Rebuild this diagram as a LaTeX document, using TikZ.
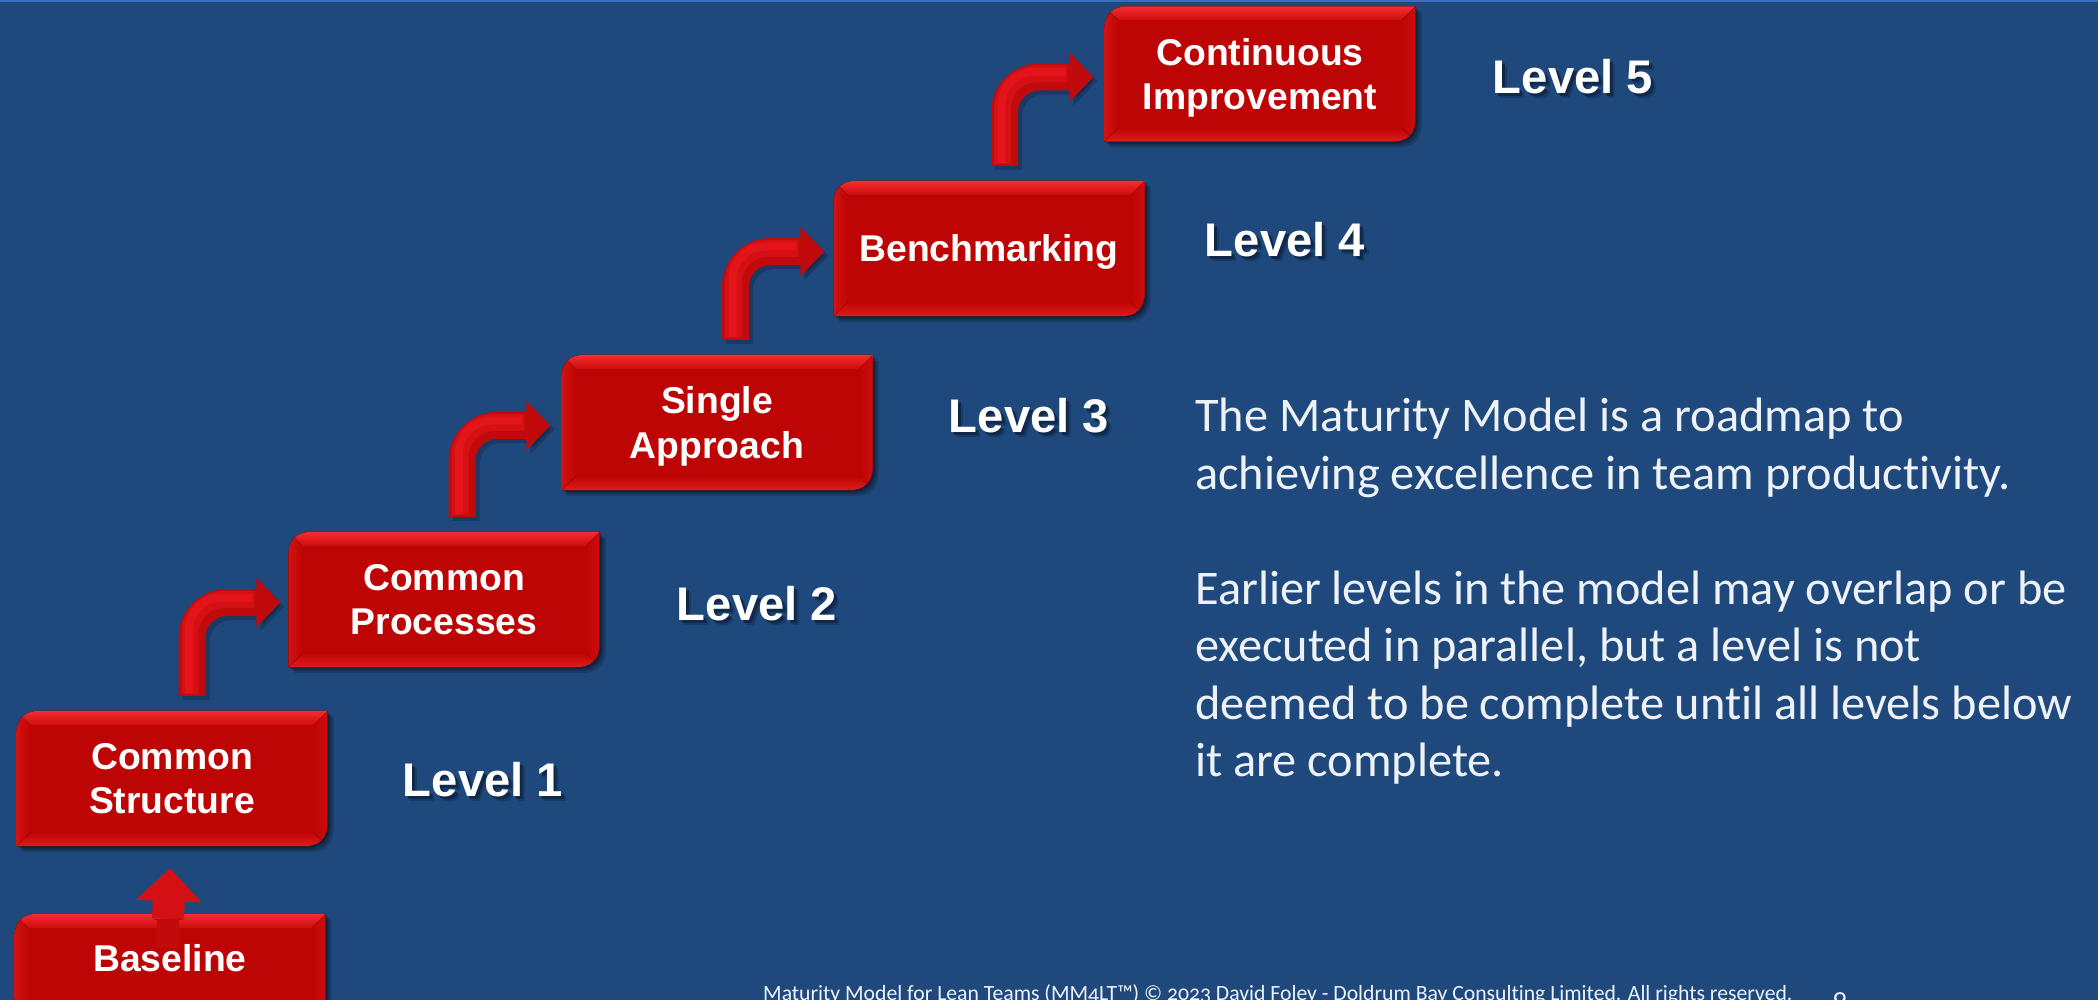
\documentclass[tikz,border=0pt]{standalone}
\usepackage{fontspec}
\setmainfont{Liberation Sans}
\newfontfamily\bodyfont[Numbers=OldStyle,Ligatures=NoCommon]{Carlito}
\usetikzlibrary{arrows.meta,backgrounds,calc}
\definecolor{slidebg}{HTML}{1F497D}
\definecolor{slidetop}{HTML}{3A6CC4}
\definecolor{flatred}{HTML}{BE0505}
\definecolor{rimred}{HTML}{CC0D0D}
\definecolor{hotred}{HTML}{F62C30}
\definecolor{arrowbase}{HTML}{C00A0C}
\definecolor{arrowmid}{HTML}{D41014}
\definecolor{arrowhot}{HTML}{E4151A}
\definecolor{softtext}{HTML}{EEF2F7}
\definecolor{lvlshadow}{HTML}{10294A}
\definecolor{lvlshadowb}{HTML}{183C68}
\tikzset{
  x=1pt,y=-1pt,
  stepbox/.style={minimum width=311pt,minimum height=135pt,inner sep=0pt,align=center,text=white,
    font=\bfseries\fontsize{37.3}{44.5}\selectfont},
  levellabel/.style={inner sep=0pt,text=white,anchor=center,font=\bfseries\fontsize{47.2}{50}\selectfont},
  bodytext/.style={inner sep=0pt,text=softtext,align=left,anchor=west,font=\bodyfont\fontsize{48.3}{57.5}\selectfont},
  foot/.style={inner sep=0pt,text=softtext,font=\bodyfont\fontsize{21.7}{26}\selectfont},
  blockbase/.style={line width=27pt,draw=arrowbase,rounded corners=35pt,-{Triangle[length=24pt,width=48pt]}},
  blockshade/.style={line width=27pt,draw=black,opacity=.2,rounded corners=35pt,-{Triangle[length=24pt,width=48pt]}},
  blockmid/.style={line width=17pt,draw=arrowmid,rounded corners=34pt},
  blockhot/.style={line width=8pt,draw=arrowhot,rounded corners=33pt},
}
\newcommand{\boxoutline}[4]{([yshift=-24pt]#1) .. controls ([yshift=-8pt]#1) and ([xshift=8pt]#1) .. ([xshift=24pt]#1) -- (#2) -- ([yshift=24pt]#3) .. controls ([yshift=8pt]#3) and ([xshift=-8pt]#3) .. ([xshift=-24pt]#3) -- (#4) -- cycle}
\newcommand{\redbox}[4]{%
  \node[stepbox] (#1) at (#2,#3) {#4};
  \begin{pgfonlayer}{background}
    \coordinate (#1nw) at (#1.north west);
    \coordinate (#1ne) at (#1.north east);
    \coordinate (#1se) at (#1.south east);
    \coordinate (#1sw) at (#1.south west);
    \coordinate (#1inw) at ([shift={(14pt,-14pt)}]#1nw);
    \coordinate (#1ine) at ([shift={(-14pt,-14pt)}]#1ne);
    \coordinate (#1ise) at ([shift={(-14pt,14pt)}]#1se);
    \coordinate (#1isw) at ([shift={(14pt,14pt)}]#1sw);
    \foreach \d/\o in {6/.16,4/.2,2/.25}{
      \coordinate (#1a) at ([shift={(\d pt,-\d pt)}]#1nw);
      \coordinate (#1b) at ([shift={(\d pt,-\d pt)}]#1ne);
      \coordinate (#1c) at ([shift={(\d pt,-\d pt)}]#1se);
      \coordinate (#1d) at ([shift={(\d pt,-\d pt)}]#1sw);
      \fill[black,opacity=\o] \boxoutline{#1a}{#1b}{#1c}{#1d};
    }
    \fill[rimred] \boxoutline{#1nw}{#1ne}{#1se}{#1sw};
    \begin{scope}
      \clip \boxoutline{#1nw}{#1ne}{#1se}{#1sw};
      \fill[top color=hotred,bottom color=rimred] (#1nw) -- (#1ne) -- (#1ine) -- (#1inw) -- cycle;
      \fill[top color=flatred,bottom color=hotred!45!rimred] (#1isw) -- (#1ise) -- (#1se) -- (#1sw) -- cycle;
      \fill[left color=rimred!85!hotred,right color=flatred] (#1nw) -- (#1inw) -- (#1isw) -- (#1sw) -- cycle;
      \fill[left color=flatred,right color=rimred] (#1ne) -- (#1ine) -- (#1ise) -- (#1se) -- cycle;
    \end{scope}
    \fill[flatred] (#1inw) rectangle (#1ise);
  \end{pgfonlayer}
}
\newcommand{\steparrow}[4]{%
  \coordinate (#1#2s) at ([shift={(#3pt,15pt)}]#1.north);
  \coordinate (#1#2e) at ([shift={(#4pt,-3pt)}]#2.west);
  \coordinate (#1#2ss) at ([shift={(4pt,-4pt)}]#1#2s);
  \coordinate (#1#2se) at ([shift={(4pt,-4pt)}]#1#2e);
  \draw[blockshade] (#1#2ss) |- (#1#2se);
  \draw[blockbase] (#1#2s) |- (#1#2e);
  \coordinate (#1#2ms) at ([shift={(-2pt,2pt)}]#1#2s);
  \coordinate (#1#2me) at ([shift={(-26pt,3pt)}]#1#2e);
  \draw[blockmid] (#1#2ms) |- (#1#2me);
  \coordinate (#1#2hs) at ([shift={(-3pt,3pt)}]#1#2s);
  \coordinate (#1#2he) at ([shift={(-28pt,5pt)}]#1#2e);
  \draw[blockhot] (#1#2hs) |- (#1#2he);
}
\newcommand{\shadowtext}[1]{\makebox[0pt][l]{\hspace{5pt}\raisebox{-5pt}{\color{lvlshadowb}#1}}\makebox[0pt][l]{\hspace{3pt}\raisebox{-3pt}{\color{lvlshadow}#1}}#1}
\begin{document}
\begin{tikzpicture}
\useasboundingbox (0,0) rectangle (2098,1000);
\begin{pgfonlayer}{background}
  \fill[slidebg] (0,0) rectangle (2098,1000);
  \fill[slidetop] (0,0) rectangle (2098,2);
\end{pgfonlayer}
\clip (0,0) rectangle (2098,1000);

\redbox{basebox}{170}{981.5}{\rule[-47pt]{0pt}{47pt}Baseline}
\redbox{structbox}{172}{778.5}{Common\\Structure}
\redbox{procbox}{444}{599.5}{Common\\Processes}
\redbox{approachbox}{717}{422.5}{\rule{0pt}{35pt}Single\\Approach}
\redbox{benchbox}{989}{248.5}{\rule{0pt}{33pt}Benchmarking}
\redbox{improvebox}{1260}{74}{\rule{0pt}{35pt}Continuous\\Improvement}

\coordinate (basestart) at ([shift={(-2pt,-5pt)}]basebox.north);
\coordinate (basetip) at ([shift={(-2pt,-22pt)}]structbox.south);
\draw[line width=32pt,draw=arrowmid,-{Triangle[length=33pt,width=64pt]}] (basestart) -- (basetip);
\coordinate (vleft) at ([shift={(-18pt,-5pt)}]basebox.north);
\coordinate (vright) at ([shift={(14pt,-5pt)}]basebox.north);
\coordinate (vlow) at ([shift={(-2pt,-11pt)}]basebox.north);
\fill[arrowbase] (vleft) -- (vlow) -- (vright) -- cycle;
\coordinate (basecore) at ([shift={(-2pt,-34pt)}]basebox.north);
\draw[line width=22pt,draw=arrowbase] (basestart) -- (basecore);

\steparrow{structbox}{procbox}{20}{-8}
\steparrow{procbox}{approachbox}{18}{-11}
\steparrow{approachbox}{benchbox}{18.5}{-9}
\steparrow{benchbox}{improvebox}{15.5}{-11}

\node[levellabel] (lvlone) at (483,782) {\shadowtext{Level 1}};
\node[levellabel] (lvltwo) at (757,606) {\shadowtext{Level 2}};
\node[levellabel] (lvlthree) at (1029,418) {\shadowtext{Level 3}};
\node[levellabel] (lvlfour) at (1285,242) {\shadowtext{Level 4}};
\node[levellabel] (lvlfive) at (1573,79) {\shadowtext{Level 5}};

\node[bodytext] (bodynote) at (1195,591.5) {The Maturity Model is a roadmap to\\
achieving excellence in team productivity.\\
\mbox{}\\
Earlier levels in the model may overlap or be\\
executed in parallel, but a level is not\\
deemed to be complete until all levels below\\
it are complete.};

\node[foot,anchor=base west] (footer) at (763,1000) {Maturity Model for Lean Teams (MM4LT™) © 2023 David Foley - Doldrum Bay Consulting Limited. All rights reserved.};
\node[foot,anchor=base,font=\bodyfont\fontsize{28}{30}\selectfont] (pagenum) at (1840,1007) {9};
\end{tikzpicture}
\end{document}
